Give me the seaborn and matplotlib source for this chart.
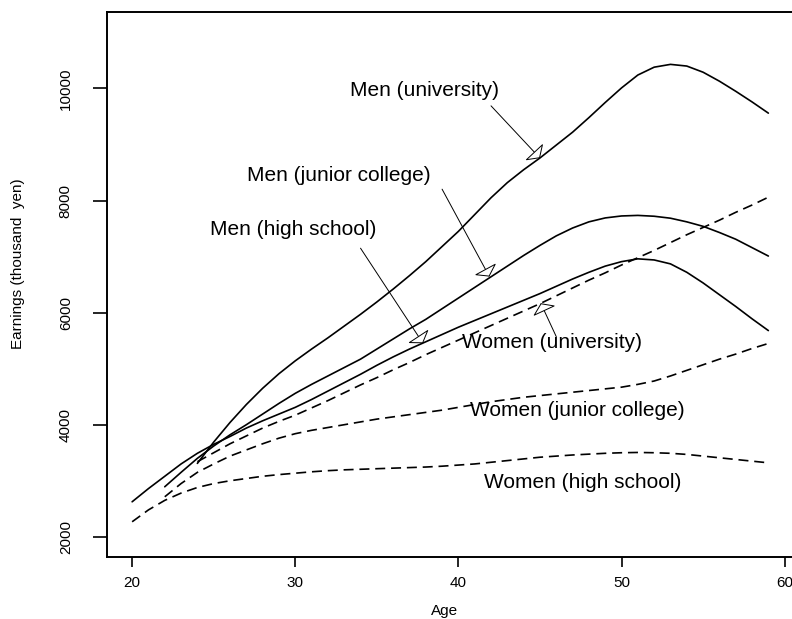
import pandas as pd
import matplotlib
matplotlib.use('Agg')
import matplotlib.pyplot as plt
import seaborn as sns

# earnings by age (thousand yen)
ages_20 = list(range(20, 60))
ages_22 = list(range(22, 60))
ages_24 = list(range(24, 60))

men_univ = [3310, 3690, 4040, 4360, 4650, 4910, 5140, 5350, 5550, 5760,
            5970, 6190, 6420, 6660, 6910, 7180, 7450, 7750, 8050, 8320,
            8550, 8760, 8990, 9220, 9480, 9750, 10010, 10240, 10380, 10430,
            10400, 10290, 10130, 9950, 9760, 9560]
men_jc = [2893, 3150, 3400, 3620, 3820, 4000, 4190, 4380, 4560, 4720,
          4870, 5020, 5170, 5350, 5530, 5710, 5880, 6070, 6260, 6450,
          6640, 6830, 7020, 7200, 7370, 7510, 7620, 7690, 7725, 7735,
          7720, 7685, 7620, 7540, 7430, 7310, 7160, 7010]
men_hs = [2625, 2860, 3080, 3300, 3490, 3650, 3790, 3940, 4070, 4190,
          4310, 4450, 4600, 4750, 4900, 5060, 5210, 5350, 5480, 5610,
          5740, 5860, 5980, 6100, 6220, 6340, 6470, 6600, 6720, 6830,
          6910, 6960, 6940, 6870, 6720, 6530, 6320, 6110, 5890, 5680]
women_univ = [3340, 3500, 3660, 3800, 3940, 4060, 4170, 4300, 4430, 4570,
              4710, 4840, 4980, 5110, 5250, 5380, 5510, 5640, 5770, 5900,
              6030, 6160, 6300, 6440, 6580, 6710, 6850, 6980, 7110, 7250,
              7390, 7520, 7650, 7790, 7920, 8060]
women_jc = [2714, 2950, 3150, 3300, 3440, 3550, 3660, 3760, 3840, 3900,
            3950, 4000, 4050, 4100, 4140, 4180, 4220, 4260, 4310, 4360,
            4410, 4450, 4490, 4520, 4550, 4580, 4610, 4640, 4670, 4720,
            4780, 4870, 4970, 5070, 5170, 5260, 5360, 5450]
women_hs = [2268, 2480, 2650, 2780, 2880, 2950, 3000, 3040, 3080, 3110,
            3135, 3160, 3180, 3195, 3205, 3215, 3225, 3235, 3245, 3260,
            3280, 3300, 3330, 3360, 3390, 3420, 3440, 3460, 3475, 3490,
            3500, 3505, 3500, 3490, 3470, 3440, 3410, 3380, 3350, 3320]

labels = ['Men (university)', 'Men (junior college)', 'Men (high school)',
          'Women (university)', 'Women (junior college)', 'Women (high school)']
label_pos = [(37.9, 9960), (32.65, 8455), (29.85, 7477),
             (45.75, 5459), (47.3, 4245), (47.6, 2968)]
# arrow (start near label, tip on curve)
arrows = {'Men (university)': ((42.0, 9690), (45.0, 8757)),
          'Men (junior college)': ((39.0, 8203), (41.9, 6643)),
          'Men (high school)': ((34.0, 7150), (37.83, 5453)),
          'Women (university)': ((46.0, 5571), (45.05, 6168))}

series = [(ages_24, men_univ, 'Men'), (ages_22, men_jc, 'Men'), (ages_20, men_hs, 'Men'),
          (ages_24, women_univ, 'Women'), (ages_22, women_jc, 'Women'), (ages_20, women_hs, 'Women')]
frames = []
for name, (a, v, sex) in zip(labels, series):
    frames.append(pd.DataFrame({'age': a, 'earnings': v, 'group': name, 'sex': sex}))
df = pd.concat(frames, ignore_index=True)

sns.set_style('ticks')
plt.rcParams['font.family'] = ['Liberation Sans', 'DejaVu Sans']
plt.rcParams['text.color'] = 'black'
plt.rcParams['xtick.color'] = 'black'
plt.rcParams['ytick.color'] = 'black'

fig = plt.figure(figsize=(7.92, 6.19), dpi=100)
ax = fig.add_axes([0.1347, 0.1002, 0.889, 0.880])

sns.lineplot(data=df, x='age', y='earnings', units='group', estimator=None,
             style='sex', dashes={'Men': '', 'Women': (6, 3.5)},
             color='black', lw=1.2, legend=False, sort=False, ax=ax)

for name, (tx, ty) in zip(labels, label_pos):
    ax.text(tx, ty, name, ha='center', va='center', fontsize=15, color='black')
for name, (start, tip) in arrows.items():
    ax.annotate('', xy=tip, xytext=start,
                arrowprops=dict(arrowstyle='-|>,head_length=0.54,head_width=0.79',
                                fc='white', ec='black', lw=0.7,
                                shrinkA=0, shrinkB=0, mutation_scale=10))

ax.set_xlim(18.44, 61.6)
ax.set_ylim(1640, 11360)
ax.set_xticks([20, 30, 40, 50, 60])
ax.set_yticks([2000, 4000, 6000, 8000, 10000])
ax.set_xlabel('')
ax.set_ylabel('')
ax.tick_params(axis='x', length=7, width=1.2, pad=6.5, labelsize=11, colors='black')
ax.tick_params(axis='y', length=10.4, width=1.2, pad=14, labelsize=11, colors='black')
for lab in ax.get_yticklabels():
    lab.set_rotation(90)
    lab.set_va('center')
for s in ['left', 'bottom', 'top']:
    ax.spines[s].set_linewidth(1.4)
    ax.spines[s].set_color('black')
ax.spines['right'].set_visible(False)

fig.text(445 / 792, 1 - 610.5 / 619, 'Age', ha='center', va='center', fontsize=11)
fig.text(18 / 792, 1 - 264 / 619, 'Earnings (thousand  yen)', ha='center', va='center',
         rotation=90, fontsize=11)

plt.savefig('out.png', dpi=100)
